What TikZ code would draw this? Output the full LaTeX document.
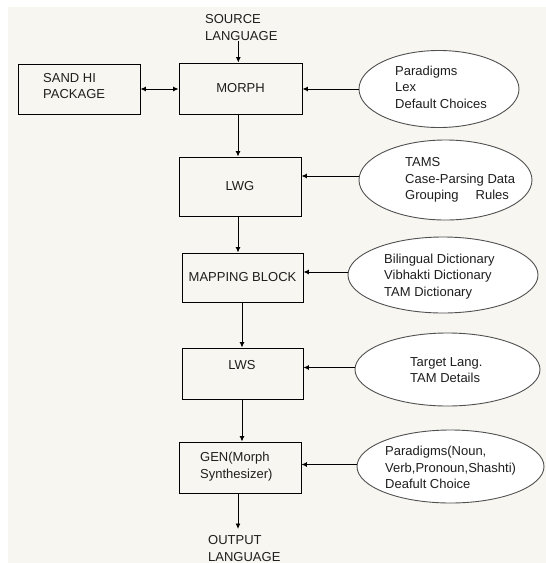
\documentclass[tikz,border=0pt]{standalone}
\usepackage{fontspec}
\setmainfont{Liberation Sans}
\usetikzlibrary{shapes.geometric,arrows.meta}

\definecolor{paper}{HTML}{F8F6F0}
\definecolor{ink}{HTML}{1E1E1E}
\definecolor{rim}{HTML}{505050}

\tikzset{
  lbl/.style={font=\fontsize{13}{16.5}\selectfont, text=ink, inner sep=0pt, align=left},
  stage/.style={draw=black, line width=0.9pt, rectangle, inner sep=0pt, lbl},
  store/.style={draw=rim, fill=white, line width=0.9pt, ellipse, inner sep=0pt},
  arr/.style={draw=black, line width=0.9pt, -{Latex[length=5.5pt,width=5pt]}},
  dblarr/.style={draw=black, line width=0.9pt, {Latex[length=5.5pt,width=5pt]}-{Latex[length=5.5pt,width=5pt]}}
}

\begin{document}
\begin{tikzpicture}[x=1pt, y=-1pt]
  % canvas
  \fill[white] (0,0) rectangle (546,563);
  \fill[paper] (8,7) rectangle (546,563);
  \useasboundingbox (0,0) rectangle (546,563);

  % processing stages
  \node[stage, minimum width=122pt, minimum height=50pt] (sand) at (79,89) {};
  \node[lbl, anchor=west] (sandtxt) at (43,86) {SAND HI\\PACKAGE};
  \node[stage, minimum width=123pt, minimum height=51pt] (morph) at (240.5,88.5) {MORPH};
  \node[stage, minimum width=122pt, minimum height=59pt] (lwg) at (240,186.5) {LWG};
  \node[stage, minimum width=121pt, minimum height=49pt] (map) at (242.5,277.5) {MAPPING BLOCK};
  \node[stage, minimum width=121pt, minimum height=51pt] (lws) at (242.5,373.5) {};
  \node[lbl] (lwstxt) at (242,365) {LWS};
  \node[stage, minimum width=122pt, minimum height=51pt] (gen) at (240,467.5) {};
  \node[lbl, anchor=west] (gentxt) at (200,466.5) {GEN(Morph\\Synthesizer)};

  % input and output labels
  \node[lbl, anchor=west] (src) at (205,27.5) {SOURCE\\LANGUAGE};
  \node[lbl, anchor=west] (out) at (208,548.5) {OUTPUT\\LANGUAGE};
  \coordinate (outtip) at (238,529);

  % data stores
  \node[store, minimum width=160pt, minimum height=77pt] (e1) at (439,89) {};
  \node[lbl, anchor=west] (e1txt) at (395,87) {Paradigms\\Lex\\Default Choices};
  \node[store, minimum width=173pt, minimum height=80pt] (e2) at (445.5,180) {};
  \node[lbl, anchor=west] (e2txt) at (405,180) {TAMS\\Case-Parsing Data\\Grouping\hspace{17pt}Rules};
  \node[store, minimum width=190pt, minimum height=76pt] (e3) at (443,275) {};
  \node[lbl, anchor=west] (e3txt) at (384,276.5) {Bilingual Dictionary\\Vibhakti Dictionary\\TAM Dictionary};
  \node[store, minimum width=185pt, minimum height=73pt] (e4) at (447.5,369.5) {};
  \node[lbl, anchor=west] (e4txt) at (410,370) {Target Lang.\\TAM Details};
  \node[store, minimum width=187pt, minimum height=73pt] (e5) at (450.5,466.5) {};
  \node[lbl, anchor=west] (e5txt) at (385,467.5) {Paradigms(Noun,\\Verb,Pronoun,Shashti)\\Deafult Choice};

  % main flow
  \draw[arr] ([xshift=-3pt]src.south) -- ([xshift=-3pt]src.south |- morph.north);
  \draw[arr] ([xshift=-2.5pt]morph.south) -- ([xshift=-2.5pt]morph.south |- lwg.north);
  \draw[arr] ([xshift=-2pt]lwg.south) -- ([xshift=-2pt]lwg.south |- map.north);
  \draw[arr] ([xshift=-0.5pt]map.south) -- ([xshift=-0.5pt]map.south |- lws.north);
  \draw[arr] ([xshift=-0.5pt]lws.south) -- ([xshift=-0.5pt]lws.south |- gen.north);
  \draw[arr] ([xshift=-2pt]gen.south) -- (outtip);

  % package exchange
  \draw[dblarr] (sand.east) -- (sand.east -| morph.west);

  % data feeds
  \draw[arr] (e1.west) -- (e1.west -| morph.east);
  \draw[arr] ([yshift=4pt]e2.west) -- ([yshift=4pt]e2.west -| lwg.east);
  \draw[arr] ([yshift=3pt]e3.west) -- ([yshift=3pt]e3.west -| map.east);
  \draw[arr] ([yshift=2pt]e4.west) -- ([yshift=2pt]e4.west -| lws.east);
  \draw[arr] ([yshift=2pt]e5.west) -- ([yshift=2pt]e5.west -| gen.east);
\end{tikzpicture}
\end{document}
